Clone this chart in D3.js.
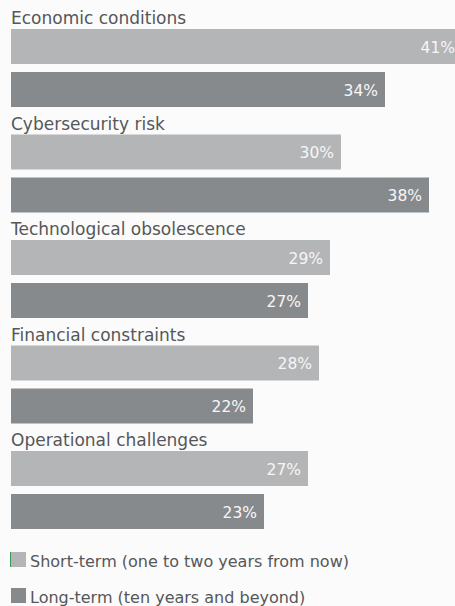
<!DOCTYPE html>
<html><head><meta charset="utf-8">
<script src="https://cdn.jsdelivr.net/npm/d3@7"></script>
<style>
html,body{margin:0;padding:0;background:#fbfbfb;}
svg{display:block;}
text{font-family:"DejaVu Sans",sans-serif;}
</style></head><body>
<svg id="c" width="455" height="606"></svg>
<script>
const categories = ["Economic conditions","Cybersecurity risk","Technological obsolescence","Financial constraints","Operational challenges"];
const shortTerm = [41,30,29,28,27];
const longTerm = [34,38,27,22,23];
const seriesNames = ["Short-term (one to two years from now)","Long-term (ten years and beyond)"];
const colors = ["#b3b5b6","#878a8d"];

const svg = d3.select("#c");
const x = d3.scaleLinear().domain([0,100]).range([11,1111]);
const y = d3.scaleBand().domain(categories).range([29, 29+5*105.5]).paddingInner(0);
const barH = 35, gap = 43;
const series = [shortTerm, longTerm];

const g = svg.selectAll("g.cat").data(categories).join("g").attr("class","cat");
g.append("text").attr("x",11).attr("y",c=>y(c)-5).attr("fill","#555759")
  .attr("font-size",17).text(c=>c);

series.forEach((vals,si)=>{
  svg.selectAll("rect.s"+si).data(categories).join("rect").attr("class","s"+si)
    .attr("x",x(0)).attr("y",c=>y(c)+si*gap).attr("height",barH)
    .attr("width",(c,i)=>x(vals[i])-x(0)).attr("fill",colors[si]);
  svg.selectAll("text.v"+si).data(categories).join("text").attr("class","v"+si)
    .attr("x",(c,i)=>x(vals[i])-7).attr("y",c=>y(c)+si*gap+23.5)
    .attr("text-anchor","end").attr("fill","#f7f7f7").attr("font-size",15.5)
    .text((c,i)=>vals[i]+"%");
});

const lg = svg.selectAll("g.lg").data(seriesNames).join("g").attr("class","lg")
  .attr("transform",(d,i)=>`translate(11,${552+i*36})`);
lg.append("rect").attr("width",15).attr("height",15).attr("fill",(d,i)=>colors[i]);
lg.append("text").attr("x",19).attr("y",14.5).attr("fill","#555759").attr("font-size",16).text(d=>d);
svg.append("line").attr("x1",10.5).attr("x2",10.5).attr("y1",552).attr("y2",567)
  .attr("stroke","#3a9a5a").attr("stroke-width",1);
</script></body></html>
